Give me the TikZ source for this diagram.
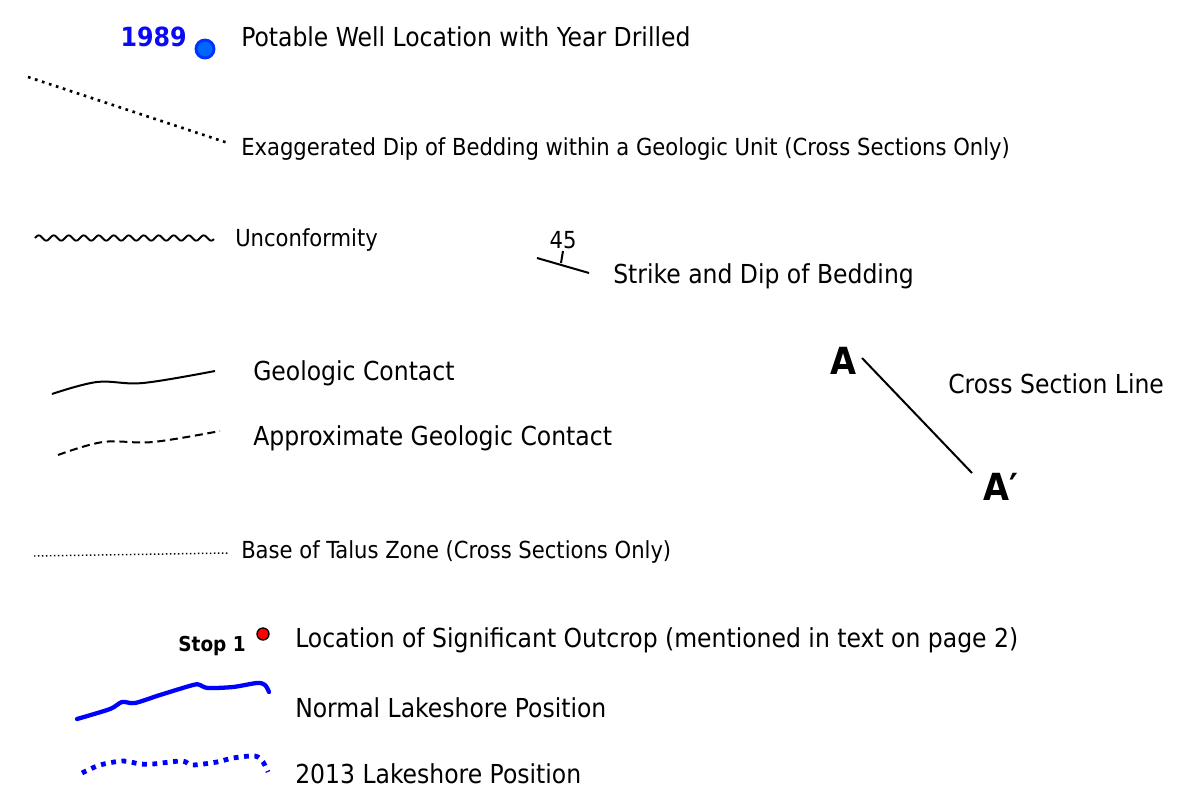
\documentclass[tikz,border=0pt]{standalone}
\usepackage{fontspec}
\IfFontExistsTF{DejaVu Sans Condensed}{\setmainfont{DejaVu Sans Condensed}}{\setmainfont{DejaVu Sans}[FakeStretch=0.9]}
\usetikzlibrary{calc}
\definecolor{wellblue}{RGB}{0,102,255}
\definecolor{wellrim}{RGB}{0,51,255}
\definecolor{txtblue}{RGB}{10,10,245}
\definecolor{shore}{RGB}{0,0,255}
\tikzset{
  lbl/.style={anchor=west, inner sep=0pt, font=\fontsize{19.6}{21}\selectfont},
  slbl/.style={anchor=west, inner sep=0pt, font=\fontsize{17.6}{19}\selectfont},
  sym/.style={line width=1.5},
}
\begin{document}
\begin{tikzpicture}[x=0.75pt,y=-0.75pt]
\useasboundingbox (0,0) rectangle (1178,809);
% well
\node[anchor=east, inner sep=0pt, text=txtblue, font=\fontsize{19.8}{21}\selectfont\bfseries] (yr) at (187,37) {1989};
\node[circle, minimum size=13.5pt, inner sep=0pt, fill=wellblue, draw=wellrim, line width=2.2] (well) at (205,49) {};
\node[lbl] (wellt) at (241,37) {Potable Well Location with Year Drilled};
% exaggerated dip
\coordinate (d1) at (28,77);
\coordinate (d2) at (228,143);
\draw[line width=2, dash pattern=on 2 off 3.5] (d1) -- (d2);
\node[slbl] (dipt) at (241,149) {Exaggerated Dip of Bedding within a Geologic Unit (Cross Sections Only)};
% unconformity
\draw[line width=1.4] plot[domain=35:214, samples=240, smooth] (\x, {238 - 2.6*sin((\x-35)*24)});
\node[slbl] (unct) at (235,240) {Unconformity};
% strike and dip
\coordinate (s1) at (537,258);
\coordinate (s2) at (589,273);
\coordinate (t1) at (561,263);
\coordinate (t2) at (563,251);
\draw[sym] (s1) -- (s2);
\draw[sym] (t1) -- (t2);
\node[inner sep=0pt, font=\fontsize{17.6}{19}\selectfont] (dip) at (563,240) {45};
\node[lbl] (strt) at (613,276) {Strike and Dip of Bedding};
% geologic contact
\coordinate (g1) at (52,394);
\coordinate (g2) at (97,382);
\coordinate (g3) at (143,383);
\coordinate (g4) at (215,371);
\draw[sym] plot[smooth, tension=0.6] coordinates {(g1) (g2) (g3) (g4)};
\node[lbl] (geot) at (253,373) {Geologic Contact};
% approximate contact
\coordinate (a1) at (58,455);
\coordinate (a2) at (103,442);
\coordinate (a3) at (153,442);
\coordinate (a4) at (220,431);
\draw[sym, dash pattern=on 6 off 3.5] plot[smooth, tension=0.6] coordinates {(a1) (a2) (a3) (a4)};
\node[lbl] (appt) at (253,438) {Approximate Geologic Contact};
% talus
\coordinate (b1) at (34,556);
\coordinate (b2) at (229,553);
\draw[line width=1.1, dash pattern=on 1.1 off 1.9] (b1) -- (b2);
\node[slbl] (talt) at (241,552) {Base of Talus Zone (Cross Sections Only)};
% cross section
\node[inner sep=0pt, font=\fontsize{28}{30}\selectfont\bfseries] (A) at (843,361) {A};
\node[inner sep=0pt, font=\fontsize{28}{30}\selectfont\bfseries] (Ap) at (1001,487) {A′};
\coordinate (c1) at (862,358);
\coordinate (c2) at (972,473);
\draw[sym] (c1) -- (c2);
\node[lbl] (cst) at (948,384) {Cross Section Line};
% stop 1
\node[anchor=east, inner sep=0pt, font=\fontsize{15.4}{17}\selectfont\bfseries] (stop) at (246,646) {Stop 1};
\node[circle, minimum size=9pt, inner sep=0pt, fill=red, draw=black, line width=1] (stopdot) at (263,634) {};
\node[lbl] (stopt) at (295,640) {Location of Significant Outcrop (mentioned in text on page 2)};
% normal lakeshore
\draw[shore, line width=3.2, line join=round, line cap=round] plot[smooth, tension=0.5] coordinates {(77,719) (110,709) (122,702) (135,703) (160,695) (193,685) (200,685) (208,688) (233,687) (257,683) (265,685) (269,692)};
\node[lbl] (normt) at (295,708) {Normal Lakeshore Position};
% 2013 lakeshore
\draw[shore, line width=3.6, dash pattern=on 3.6 off 4.2] plot[smooth, tension=0.5] coordinates {(82,773) (100,765) (123,761) (140,764) (153,764) (182,761) (192,765) (217,762) (233,758) (255,756) (263,762) (268,772)};
\node[lbl] (lake13) at (295,774) {2013 Lakeshore Position};
\end{tikzpicture}
\end{document}
